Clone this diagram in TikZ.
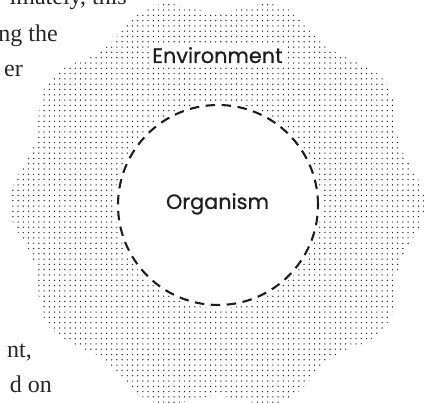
\documentclass[tikz,border=0pt]{standalone}
\usepackage{fontspec}
\setmainfont{Liberation Serif}
\newfontfamily\labelfont{Poppins}[FakeBold=0.6]
\definecolor{ink}{HTML}{1E1E1E}
\definecolor{bodyink}{HTML}{262626}
\definecolor{dotc}{HTML}{222222}
\tikzset{
  bodytext/.style={anchor=base east, inner sep=0pt, text=bodyink, font=\fontsize{24}{24}\selectfont},
  label/.style={inner sep=0pt, text=ink, font=\labelfont\fontsize{20.8}{20.8}\selectfont},
  dashring/.style={circle, draw=ink, line width=2.1pt, dash pattern=on 9.5pt off 6.5pt, minimum size=200pt, inner sep=0pt, outer sep=0pt}
}
\begin{document}
\begin{tikzpicture}[x=1pt,y=-1pt]
\useasboundingbox (0,0) rectangle (424,403);
% environment blob with dots
\begin{scope}
  \clip plot[domain=0:359, samples=360] ({217+(200+8*cos(10*\x))*cos(\x)},{204+(200+8*cos(10*\x))*sin(\x)}) -- cycle;
  \foreach \j in {-1,...,75} {
    \fill[dotc] \foreach \i in {0,...,82} { ({2.5+5.2*\i},{10+5.3*\j}) circle (0.72pt) };
  }
\end{scope}
% organism
\coordinate (c) at (218,205);
\fill[white] (c) circle (103pt);
\node[dashring] (organism) at (c) {};
\node[label, anchor=base] (orgtext) at (217.5,209) {Organism};
\node[label, anchor=base, fill=white, inner xsep=3pt, inner ysep=4pt] (envtext) at (217.5,63) {Environment};
% body text fragments
\node[bodytext] (t1) at (127,5) {imately, this};
\node[bodytext] (t2) at (58,42) {ng the};
\node[bodytext] (t3) at (23,77) {er};
\node[bodytext] (t4) at (32,358) {nt,};
\node[bodytext] (t5) at (52,393) {d on};
\end{tikzpicture}
\end{document}
